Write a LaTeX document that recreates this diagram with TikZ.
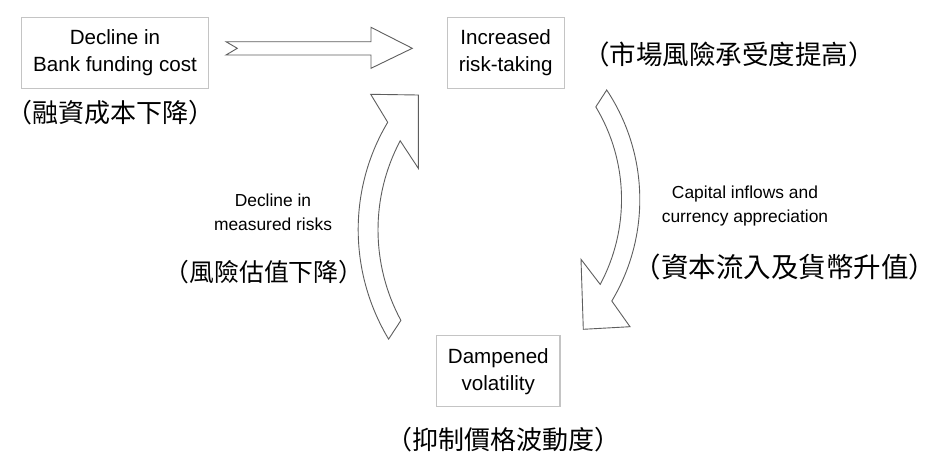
\documentclass[tikz,border=0pt]{standalone}
\usepackage{fontspec}
\setmainfont{Liberation Sans}
\newfontfamily\cjk{Noto Sans CJK TC}
\definecolor{boxgray}{HTML}{C4C4C4}
\definecolor{arrowgray}{HTML}{5E5E5E}
\begin{document}
\begin{tikzpicture}[x=1pt,y=-1pt,
  box/.style={draw=boxgray, line width=1.1pt, minimum height=71pt, align=center,
    inner sep=0pt, font=\fontsize{20.6}{27}\selectfont},
  cjklabel/.style={font=\cjk\fontsize{26}{30}\selectfont, inner sep=0pt},
  smalllabel/.style={font=\fontsize{17.4}{24}\selectfont, align=center, inner sep=0pt},
  blockarrow/.style={draw=arrowgray, line width=0.9pt, fill=white, line join=miter}]
\useasboundingbox (0,0) rectangle (937,453);

% boxes
\node[box, minimum width=186.6pt] (fund) at (115,52.8) {Decline in\\Bank funding cost};
\node[box, minimum width=116.7pt] (risk) at (505.7,52.8) {Increased\\risk-taking};
\node[box, minimum width=123.3pt] (damp) at (498.3,371.2) {Dampened\\volatility};

% labels
\node[cjklabel] (fundzh) at (110,113) {（融資成本下降）};
\node[cjklabel, font=\cjk\fontsize{26.5}{30}\selectfont] (riskzh) at (729,54) {（市場風險承受度提高）};
\node[smalllabel] (measured) at (273,212) {Decline in\\measured risks};
\node[cjklabel, font=\cjk\fontsize{24.8}{30}\selectfont] (measuredzh) at (264,272) {（風險估值下降）};
\node[smalllabel] (capital) at (745,206) {Capital inflows and\\currency appreciation};
\node[cjklabel, font=\cjk\fontsize{27.5}{30}\selectfont] (capitalzh) at (785,267) {（資本流入及貨幣升值）};
\node[cjklabel] (dampzh) at (503,440) {（抑制價格波動度）};

% straight block arrow
\draw[blockarrow] (226,41.7) -- (371,41.7) -- (371,27.3) -- (412.3,48.3) -- (371,68.3)
  -- (371,55) -- (226,55) -- (237.3,48.3) -- cycle;

% right curved block arrow (down)
\draw[blockarrow] (606.7,90) .. controls (648.9,153.5) and (650.9,235.6) .. (611.8,301)
  -- (630,326.7) -- (583.3,329.3) -- (581,259.3) -- (600.2,284.4)
  .. controls (630.1,228.6) and (628.5,161.1) .. (595.8,106.9) -- cycle;

% left curved block arrow (up)
\draw[blockarrow] (388.6,339.1) .. controls (348.6,272.5) and (347.8,189.1) .. (387.7,122.3)
  -- (370.7,94.3) -- (418.3,95) -- (418.3,168.3) -- (400.2,140.8)
  .. controls (370.3,197.0) and (370.7,264.5) .. (400.9,320.4) -- cycle;
\end{tikzpicture}
\end{document}
